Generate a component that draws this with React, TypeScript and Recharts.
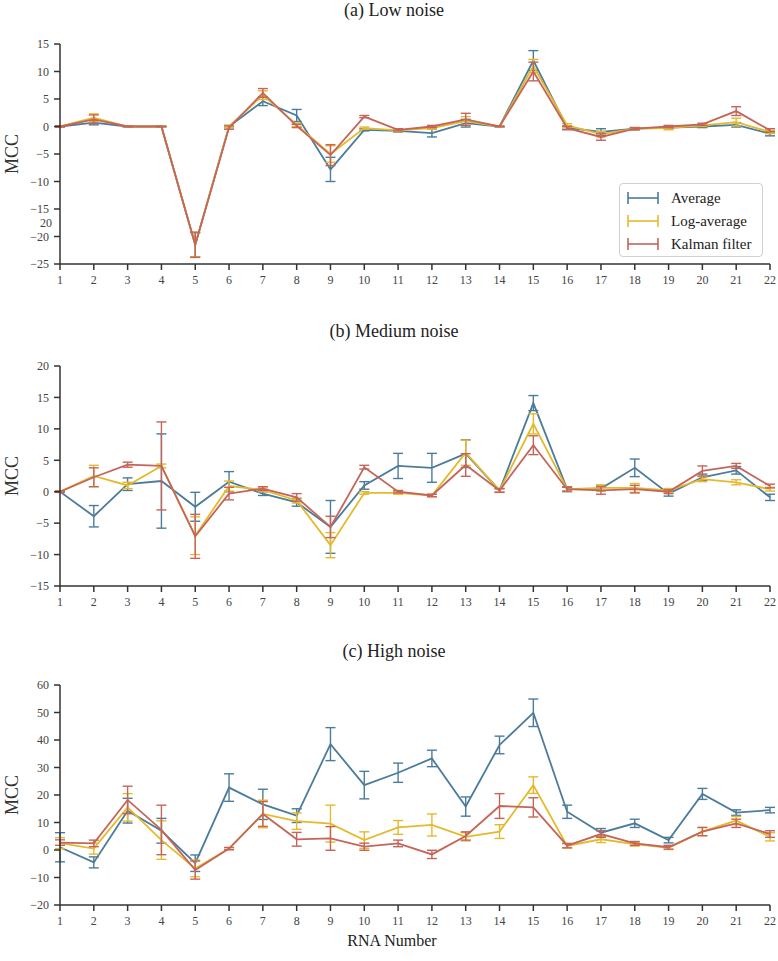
import React from 'react';
import { LineChart, Line, XAxis, YAxis, ErrorBar } from 'recharts';

const rna = [1, 2, 3, 4, 5, 6, 7, 8, 9, 10, 11, 12, 13, 14, 15, 16, 17, 18, 19, 20, 21, 22];

// (a) Low noise
const lowAvg = [0, 0.7, 0, 0, -21.5, 0, 4.6, 2.0, -7.8, -0.6, -0.8, -1.2, 0.6, 0, 12.0, -0.2, -1.0, -0.4, -0.2, 0, 0.3, -1.3];
const lowAvgErr = [0.1, 0.4, 0.05, 0.05, 2.2, 0.2, 0.8, 1.1, 2.2, 0.2, 0.2, 0.7, 0.7, 0.05, 1.8, 0.3, 0.6, 0.2, 0.2, 0.2, 0.4, 0.4];
const lowLog = [0, 1.6, 0, 0, -21.5, 0, 5.7, 0.3, -5.0, -0.3, -0.7, -0.3, 1.0, 0, 11.0, 0.2, -1.4, -0.4, -0.3, 0.2, 0.8, -1.0];
const lowLogErr = [0.1, 0.7, 0.05, 0.05, 2.2, 0.2, 0.8, 0.3, 1.5, 0.2, 0.2, 0.2, 0.8, 0.05, 1.2, 0.3, 0.5, 0.2, 0.3, 0.2, 0.7, 0.3];
const lowKal = [0, 1.3, 0, 0, -21.5, -0.2, 6.1, 0.1, -5.2, 1.8, -0.6, 0, 1.3, 0, 10.0, -0.3, -1.9, -0.4, 0, 0.4, 2.8, -0.7];
const lowKalErr = [0.1, 0.8, 0.05, 0.05, 2.3, 0.3, 0.8, 0.3, 1.9, 0.2, 0.2, 0.2, 1.1, 0.05, 1.7, 0.3, 0.6, 0.2, 0.2, 0.2, 0.8, 0.3];

// (b) Medium noise
const medAvg = [0, -3.9, 1.2, 1.7, -2.4, 1.6, -0.3, -1.7, -5.6, 1.0, 4.1, 3.8, 6.05, 0.2, 14.1, 0.4, 0.5, 3.8, -0.3, 2.3, 3.4, -0.9];
const medAvgErr = [0.1, 1.7, 1.0, 7.5, 2.3, 1.6, 0.3, 0.6, 4.2, 0.6, 2.0, 2.3, 2.2, 0.3, 1.2, 0.4, 0.4, 1.4, 0.4, 0.5, 0.6, 0.5];
const medLog = [0, 2.5, 1.0, 4.1, -7.0, 0.9, 0.3, -1.4, -8.5, -0.2, -0.2, -0.6, 6.2, 0.2, 10.8, 0.4, 0.6, 0.6, 0.2, 2.0, 1.5, 0.4];
const medLogErr = [0.1, 1.7, 0.5, 0.3, 3.0, 0.8, 0.3, 0.4, 2.0, 0.2, 0.2, 0.2, 2.0, 0.3, 1.6, 0.3, 0.5, 0.7, 0.3, 0.4, 0.4, 0.3];
const medKal = [0, 2.3, 4.3, 4.1, -7.1, -0.3, 0.5, -0.9, -5.6, 3.9, 0, -0.6, 4.25, 0.2, 7.4, 0.4, 0.2, 0.4, 0, 3.3, 4.1, 0.9];
const medKalErr = [0.1, 1.5, 0.4, 7.0, 3.5, 1.0, 0.3, 0.6, 1.7, 0.3, 0.2, 0.2, 1.8, 0.3, 1.5, 0.3, 0.6, 0.6, 0.3, 0.8, 0.4, 0.3];

// (c) High noise
const highAvg = [1.0, -4.5, 14.3, 7.0, -4.8, 22.7, 16.6, 12.5, 38.5, 23.6, 28.1, 33.3, 15.8, 38.2, 49.9, 13.9, 6.3, 9.7, 3.6, 20.4, 13.6, 14.5];
const highAvgErr = [5.3, 2.0, 4.5, 4.5, 3.0, 5.0, 5.5, 2.5, 6.0, 5.0, 3.5, 3.0, 3.5, 3.2, 5.0, 2.4, 1.5, 1.5, 1.0, 2.0, 1.0, 1.0];
const highLog = [2.5, 0.5, 15.5, 3.6, -6.7, 0.5, 13.1, 10.5, 9.6, 3.6, 8.2, 9.1, 4.8, 6.7, 23.6, 1.5, 3.9, 2.1, 0.8, 6.7, 10.7, 4.8];
const highLogErr = [2.0, 2.0, 5.0, 7.0, 3.0, 0.4, 5.0, 3.0, 6.7, 3.0, 2.5, 4.0, 1.5, 2.5, 3.0, 0.8, 1.2, 0.7, 0.6, 1.5, 1.5, 1.5];
const highKal = [2.7, 2.4, 18.2, 7.3, -7.3, 0.5, 13.1, 3.9, 4.2, 1.2, 2.4, -1.6, 5.1, 16.0, 15.5, 1.6, 5.8, 2.4, 1.0, 6.7, 9.7, 5.8];
const highKalErr = [1.0, 1.2, 5.0, 9.0, 3.3, 0.4, 4.5, 2.5, 4.3, 1.3, 1.2, 1.5, 1.5, 4.5, 3.5, 0.8, 1.2, 0.7, 0.7, 1.5, 1.5, 1.2];

const lowTicks = [-25, -20, -15, -10, -5, 0, 5, 10, 15];
const medTicks = [-15, -10, -5, 0, 5, 10, 15, 20];
const highTicks = [-20, -10, 0, 10, 20, 30, 40, 50, 60];

const seriesNames = ['Average', 'Log-average', 'Kalman filter'];
const titles = ['(a) Low noise', '(b) Medium noise', '(c) High noise'];

const BLUE = '#4b7c9b';
const YELLOW = '#e5b92c';
const RED = '#c5655a';
const colors = [BLUE, YELLOW, RED];
const AXIS = '#333333';
const TICK = '#444444';
const FONT = '"Liberation Serif", "Times New Roman", serif';

const build = (a: number[], ae: number[], l: number[], le: number[], k: number[], ke: number[]) =>
  rna.map((x, i) => ({ rna: x, avg: a[i], avgErr: ae[i], log: l[i], logErr: le[i], kal: k[i], kalErr: ke[i] }));

const panels = [
  { data: build(lowAvg, lowAvgErr, lowLog, lowLogErr, lowKal, lowKalErr), ticks: lowTicks, top: 0, height: 300, margin: { top: 44, right: 8, bottom: 6, left: 0 } },
  { data: build(medAvg, medAvgErr, medLog, medLogErr, medKal, medKalErr), ticks: medTicks, top: 300, height: 320, margin: { top: 66, right: 8, bottom: 4, left: 0 } },
  { data: build(highAvg, highAvgErr, highLog, highLogErr, highKal, highKalErr), ticks: highTicks, top: 620, height: 341, margin: { top: 65, right: 8, bottom: 26, left: 0 } },
];

const fmt = (v: number) => (v < 0 ? '\u2212' + Math.abs(v) : String(v));
const tickStyle = { fontSize: 12, fill: TICK, fontFamily: FONT };

function Panel({ p }: { p: typeof panels[number] }) {
  const dom: [number, number] = [p.ticks[0], p.ticks[p.ticks.length - 1]];
  return (
    <div style={{ position: 'absolute', left: 0, top: p.top }}>
      <LineChart width={778} height={p.height} data={p.data} margin={p.margin}>
        <XAxis dataKey="rna" type="number" domain={[1, 22]} ticks={rna} interval={0} allowDataOverflow
          height={30} tickSize={6} tickMargin={5} stroke={AXIS} strokeWidth={1.5} tick={tickStyle} />
        <XAxis xAxisId="top" orientation="top" type="number" domain={[1, 22]} height={0} tick={false} tickLine={false} stroke={AXIS} strokeWidth={1.5} />
        <YAxis type="number" domain={dom} ticks={p.ticks} interval={0} allowDataOverflow width={60}
          tickSize={6} tickMargin={5} stroke={AXIS} strokeWidth={1.5} tick={tickStyle} tickFormatter={fmt}
          label={{ value: 'MCC', angle: -90, position: 'insideLeft', offset: 12, style: { fontSize: 18, fill: AXIS, fontFamily: FONT, textAnchor: 'middle' } }} />
        <YAxis yAxisId="right" orientation="right" type="number" domain={dom} width={0} tick={false} tickLine={false} stroke={AXIS} strokeWidth={1.5} />
        <Line dataKey="avg" stroke={BLUE} strokeWidth={1.8} dot={false} isAnimationActive={false}>
          <ErrorBar dataKey="avgErr" width={5} stroke={BLUE} strokeWidth={1.4} direction="y" isAnimationActive={false} />
        </Line>
        <Line dataKey="log" stroke={YELLOW} strokeWidth={1.8} dot={false} isAnimationActive={false}>
          <ErrorBar dataKey="logErr" width={5} stroke={YELLOW} strokeWidth={1.4} direction="y" isAnimationActive={false} />
        </Line>
        <Line dataKey="kal" stroke={RED} strokeWidth={1.8} dot={false} isAnimationActive={false}>
          <ErrorBar dataKey="kalErr" width={5} stroke={RED} strokeWidth={1.4} direction="y" isAnimationActive={false} />
        </Line>
      </LineChart>
    </div>
  );
}

function LegendBox() {
  return (
    <div style={{ position: 'absolute', left: 619, top: 183, width: 142, height: 72, border: '1px solid #d0d0d0', borderRadius: 4, background: 'rgba(255,255,255,0.85)', fontFamily: FONT, fontSize: 15, color: '#222' }}>
      {seriesNames.map((n, i) => (
        <div key={n} style={{ position: 'absolute', left: 7, top: 4 + i * 23, height: 20, display: 'flex', alignItems: 'center' }}>
          <svg width={32} height={14} style={{ display: 'block' }}>
            <line x1={1} y1={7} x2={31} y2={7} stroke={colors[i]} strokeWidth={1.6} />
            <line x1={1} y1={1} x2={1} y2={13} stroke={colors[i]} strokeWidth={1.6} />
            <line x1={31} y1={1} x2={31} y2={13} stroke={colors[i]} strokeWidth={1.6} />
          </svg>
          <span style={{ marginLeft: 12, whiteSpace: 'nowrap' }}>{n}</span>
        </div>
      ))}
    </div>
  );
}

export default function App() {
  return (
    <div style={{ position: 'absolute', left: 0, top: 0, width: 778, height: 961, background: '#fff', fontFamily: FONT }}>
      {panels.map((p, i) => <Panel key={i} p={p} />)}
      <svg width={778} height={961} style={{ position: 'absolute', left: 0, top: 0, pointerEvents: 'none' }}>
        <text x={394} y={16} textAnchor="middle" fontSize={18} fill="#222" fontFamily={FONT}>{titles[0]}</text>
        <text x={394} y={337} textAnchor="middle" fontSize={18} fill="#222" fontFamily={FONT}>{titles[1]}</text>
        <text x={394} y={657} textAnchor="middle" fontSize={18} fill="#222" fontFamily={FONT}>{titles[2]}</text>
        <text x={392} y={946} textAnchor="middle" fontSize={16} fill="#222" fontFamily={FONT}>RNA Number</text>
        <text x={52} y={227} textAnchor="end" fontSize={12} fill={TICK} fontFamily={FONT}>20</text>
      </svg>
      <LegendBox />
    </div>
  );
}
